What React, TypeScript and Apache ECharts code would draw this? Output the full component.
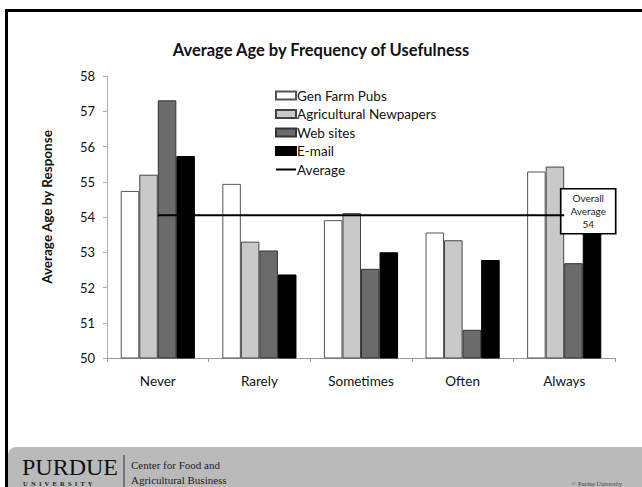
import React, { useEffect, useRef } from "react";
import * as echarts from "echarts";

const categories = ["Never", "Rarely", "Sometimes", "Often", "Always"];
const genFarmPubs = [54.74, 54.94, 53.91, 53.56, 55.29];
const agNewspapers = [55.2, 53.3, 54.11, 53.34, 55.43];
const webSites = [57.31, 53.05, 52.53, 50.8, 52.69];
const email = [55.73, 52.37, 53.0, 52.78, 53.8];
const overallAverage = [54.05, 54.05, 54.05, 54.05, 54.05];
const yTicks = { min: 50, max: 58, interval: 1 };

const FONT = "Lato, 'Open Sans', sans-serif";
const SERIF = "'Liberation Serif', 'DejaVu Serif', serif";
// thin horizontal stroke centred in a 20x8 legend box
const LINE_ICON = "path://M0,0 h0.01 v0.01 h-0.01 z M0,3.1 h20 v1.8 h-20 z M0,8 h0.01 v-0.01 h-0.01 z";

export default function App() {
  const ref = useRef<HTMLDivElement>(null);

  useEffect(() => {
    if (!ref.current) return;
    const chart = echarts.init(ref.current, undefined, { renderer: "svg" });

    const barBase = {
      type: "bar" as const,
      barGap: "0%",
      barCategoryGap: "27%",
      z: 2,
    };

    chart.setOption({
      animation: false,
      backgroundColor: "#ffffff",
      textStyle: { fontFamily: FONT },
      title: {
        text: "Average Age by Frequency of Usefulness",
        left: 316,
        top: 36,
        textAlign: "center",
        textStyle: { fontFamily: FONT, fontSize: 16.5, fontWeight: "bold", color: "#111" },
      },
      legend: {
        orient: "vertical",
        left: 270,
        top: 83,
        itemWidth: 20,
        itemHeight: 8,
        itemGap: 3.5,
        textStyle: {
          fontFamily: FONT,
          fontSize: 13.5,
          lineHeight: 15,
          color: "#111",
          padding: [0, 0, 0, -4],
        },
        data: [
          { name: "Gen Farm Pubs", icon: "rect" },
          { name: "Agricultural Newpapers", icon: "rect" },
          { name: "Web sites", icon: "rect" },
          { name: "E-mail", icon: "rect" },
          { name: "Average", icon: LINE_ICON },
        ],
      },
      grid: { left: 107, right: 27, top: 76, bottom: 129 },
      xAxis: {
        type: "category",
        data: categories,
        axisLine: { lineStyle: { color: "#9a9a9a", width: 1 } },
        axisTick: { show: true, length: 4, lineStyle: { color: "#9a9a9a" } },
        axisLabel: { margin: 16, fontSize: 13.5, color: "#111", fontFamily: FONT },
      },
      yAxis: {
        type: "value",
        min: yTicks.min,
        max: yTicks.max,
        interval: yTicks.interval,
        name: "Average Age by Response",
        nameLocation: "middle",
        nameRotate: 90,
        nameGap: 53,
        nameTextStyle: {
          fontFamily: FONT,
          fontSize: 13.5,
          fontWeight: "bold",
          color: "#111",
          padding: [0, 0, 0, 20],
        },
        axisLine: { show: true, lineStyle: { color: "#b0b0b0", width: 1 } },
        axisTick: { show: true, length: 4, lineStyle: { color: "#b0b0b0" } },
        splitLine: { show: false },
        axisLabel: { margin: 12, fontSize: 13, color: "#111", fontFamily: FONT },
      },
      series: [
        {
          ...barBase,
          name: "Gen Farm Pubs",
          data: genFarmPubs,
          itemStyle: { color: "#ffffff", borderColor: "#555", borderWidth: 1 },
        },
        {
          ...barBase,
          name: "Agricultural Newpapers",
          data: agNewspapers,
          itemStyle: { color: "#c9c9c9", borderColor: "#444", borderWidth: 1 },
        },
        {
          ...barBase,
          name: "Web sites",
          data: webSites,
          itemStyle: { color: "#6b6b6b", borderColor: "#333", borderWidth: 1 },
        },
        {
          ...barBase,
          name: "E-mail",
          data: email,
          itemStyle: { color: "#000000", borderColor: "#000", borderWidth: 1 },
        },
        {
          type: "line",
          name: "Average",
          data: overallAverage,
          symbol: "none",
          z: 5,
          lineStyle: { color: "#000", width: 2 },
          itemStyle: { color: "#000" },
          markPoint: {
            symbol: "rect",
            symbolSize: [55, 45],
            symbolOffset: [24, -4],
            itemStyle: { color: "#ffffff", borderColor: "#000", borderWidth: 1.5 },
            label: {
              show: true,
              position: "inside",
              formatter: "Overall\nAverage\n54",
              fontFamily: FONT,
              fontSize: 10,
              lineHeight: 13,
              color: "#222",
            },
            data: [{ coord: [categories.length - 1, overallAverage[overallAverage.length - 1]] }],
          },
        },
      ],
      graphic: [
        {
          type: "rect",
          shape: { x: 8, y: 447, width: 634, height: 40, r: [8, 0, 0, 0] },
          style: { fill: "#bababa" },
          z: 9,
        },
        {
          type: "polyline",
          shape: { points: [[6.5, 487], [6.5, 10.5], [642, 10.5]] },
          style: { fill: "none", stroke: "#000", lineWidth: 3 },
          z: 10,
        },
        {
          type: "text",
          x: 22,
          y: 455,
          style: { text: "PURDUE", font: `24px ${SERIF}`, fill: "#111" },
          z: 11,
        },
        {
          type: "text",
          x: 23,
          y: 480,
          style: { text: "U  N  I  V  E  R  S  I  T  Y", font: `bold 6.5px ${SERIF}`, fill: "#222" },
          z: 11,
        },
        {
          type: "line",
          shape: { x1: 124, y1: 455, x2: 124, y2: 487 },
          style: { stroke: "#333", lineWidth: 1 },
          z: 11,
        },
        {
          type: "text",
          x: 131,
          y: 459,
          style: { text: "Center for Food and", font: `11px ${SERIF}`, fill: "#222" },
          z: 11,
        },
        {
          type: "text",
          x: 131,
          y: 474,
          style: { text: "Agricultural Business", font: `11px ${SERIF}`, fill: "#222" },
          z: 11,
        },
        {
          type: "text",
          x: 572,
          y: 481,
          style: { text: "© Purdue University", font: `6px ${SERIF}`, fill: "#444" },
          z: 11,
        },
      ],
    });

    return () => chart.dispose();
  }, []);

  return (
    <div
      ref={ref}
      style={{ position: "fixed", left: 0, top: 0, width: 642, height: 487 }}
    />
  );
}
